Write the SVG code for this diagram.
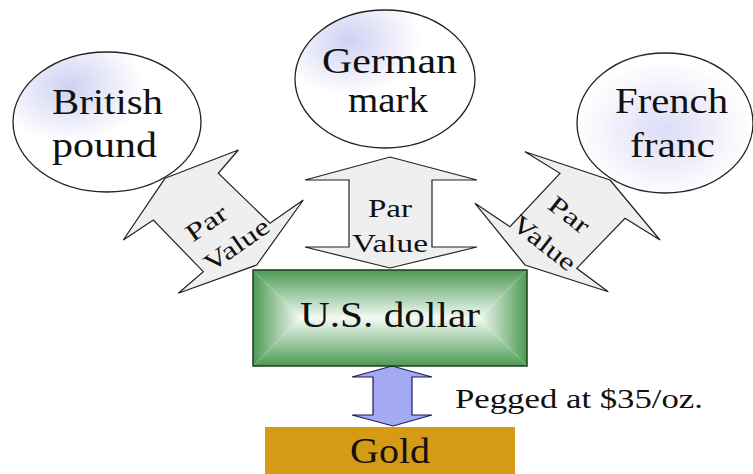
<svg xmlns="http://www.w3.org/2000/svg" width="753" height="474" viewBox="0 0 753 474">
<defs>
<radialGradient id="gBP" cx="0.3" cy="0.25" r="0.4">
<stop offset="0" stop-color="#cfd0f3"/>
<stop offset="1" stop-color="#ffffff"/>
</radialGradient>
<radialGradient id="gGM" cx="0.3" cy="0.22" r="0.4">
<stop offset="0" stop-color="#cfd0f3"/>
<stop offset="1" stop-color="#ffffff"/>
</radialGradient>
<radialGradient id="gFF" cx="0.5" cy="0.55" r="0.5">
<stop offset="0" stop-color="#dcdcf6"/>
<stop offset="1" stop-color="#ffffff"/>
</radialGradient>
<linearGradient id="gTop" x1="0" y1="0" x2="0" y2="1">
<stop offset="0" stop-color="#4c9a54"/>
<stop offset="1" stop-color="#f4faf4"/>
</linearGradient>
<linearGradient id="gBot" x1="0" y1="1" x2="0" y2="0">
<stop offset="0" stop-color="#4c9a54"/>
<stop offset="1" stop-color="#f4faf4"/>
</linearGradient>
<linearGradient id="gLeft" x1="0" y1="0" x2="1" y2="0">
<stop offset="0" stop-color="#4c9a54"/>
<stop offset="1" stop-color="#f4faf4"/>
</linearGradient>
<linearGradient id="gRight" x1="1" y1="0" x2="0" y2="0">
<stop offset="0" stop-color="#4c9a54"/>
<stop offset="1" stop-color="#f4faf4"/>
</linearGradient>
<style>
.ell{stroke:#222;stroke-width:1.3}
.big{font-family:"Liberation Serif","Times New Roman",Times,serif;font-size:35px;fill:#111;text-anchor:middle}
.pv{font-family:"Liberation Serif","Times New Roman",Times,serif;font-size:25px;fill:#111;text-anchor:middle}
.arr{fill:#efefef;stroke:#222;stroke-width:1.2;stroke-linejoin:miter}
</style>
</defs>
<rect width="753" height="474" fill="#ffffff"/>

<g id="connectors">
<g id="arrow-left">
<polygon class="arr" points="165,178.3 238.3,150 218.3,173.3 270,223.3 303.3,200 256.7,265 178.3,293.3 203.3,271.7 153.3,220 123.3,240"/>
<text class="pv" transform="translate(206.7,223.3) rotate(-35)" y="8" textLength="45" lengthAdjust="spacingAndGlyphs">Par</text>
<text class="pv" transform="translate(236.7,245) rotate(-35)" y="8" textLength="74" lengthAdjust="spacingAndGlyphs">Value</text>
</g>
<g id="arrow-center">
<polygon class="arr" points="390,157 477,180 432,180 432,247 477,247 390,268 305,247 349,247 349,180 305,180"/>
<text class="pv" x="390" y="217" textLength="44" lengthAdjust="spacingAndGlyphs">Par</text>
<text class="pv" x="390" y="252" textLength="76" lengthAdjust="spacingAndGlyphs">Value</text>
</g>
<g id="arrow-right">
<polygon class="arr" points="610,180 660,240 625,218.3 576.7,268.3 608.3,291.7 525,265 475,203.3 510,226.7 560,173.3 525,151.7"/>
<text class="pv" transform="translate(569,215) rotate(38)" y="8" textLength="45" lengthAdjust="spacingAndGlyphs">Par</text>
<text class="pv" transform="translate(544,243.3) rotate(38)" y="8" textLength="74" lengthAdjust="spacingAndGlyphs">Value</text>
</g>
<g id="arrow-gold">
<polygon points="392,366 432,377 412,377 412,415 432,415 393,426 352,415 373,415 373,377 352,377" fill="#a3a9f2" stroke="#1c1c50" stroke-width="1.2"/>
</g>
</g>

<g id="british-pound">
<ellipse class="ell" cx="107" cy="122" rx="94" ry="70" fill="url(#gBP)"/>
<text class="big" x="107.5" y="114" textLength="111" lengthAdjust="spacingAndGlyphs">British</text>
<text class="big" x="104.5" y="157" textLength="105" lengthAdjust="spacingAndGlyphs">pound</text>
</g>

<g id="german-mark">
<ellipse class="ell" cx="385" cy="79" rx="90" ry="69" fill="url(#gGM)"/>
<text class="big" x="389.5" y="73" textLength="135" lengthAdjust="spacingAndGlyphs">German</text>
<text class="big" x="388" y="112" textLength="80" lengthAdjust="spacingAndGlyphs">mark</text>
</g>

<g id="french-franc">
<ellipse class="ell" cx="665" cy="123" rx="88" ry="70" fill="url(#gFF)"/>
<text class="big" x="671.5" y="113" textLength="113" lengthAdjust="spacingAndGlyphs">French</text>
<text class="big" x="672.5" y="157" textLength="85" lengthAdjust="spacingAndGlyphs">franc</text>
</g>

<g id="us-dollar">
<polygon points="253,270 527,270 479,318 301,318" fill="url(#gTop)"/>
<polygon points="253,366 527,366 479,318 301,318" fill="url(#gBot)"/>
<polygon points="253,270 301,318 253,366" fill="url(#gLeft)"/>
<polygon points="527,270 479,318 527,366" fill="url(#gRight)"/>
<rect x="253" y="270" width="274" height="96" fill="none" stroke="#1e3a20" stroke-width="1.5"/>
<text class="big" x="390" y="327" font-size="33" textLength="180" lengthAdjust="spacingAndGlyphs">U.S. dollar</text>
</g>

<g id="gold">
<rect x="265" y="427" width="250" height="50" fill="#d59b15"/>
<text class="big" x="390" y="463" font-size="34" fill="#2a1400" textLength="80" lengthAdjust="spacingAndGlyphs">Gold</text>
</g>

<text id="peg-label" x="455" y="408" font-family="&quot;Liberation Serif&quot;,&quot;Times New Roman&quot;,Times,serif" font-size="27" fill="#111" textLength="248" lengthAdjust="spacingAndGlyphs">Pegged at $35/oz.</text>
</svg>
